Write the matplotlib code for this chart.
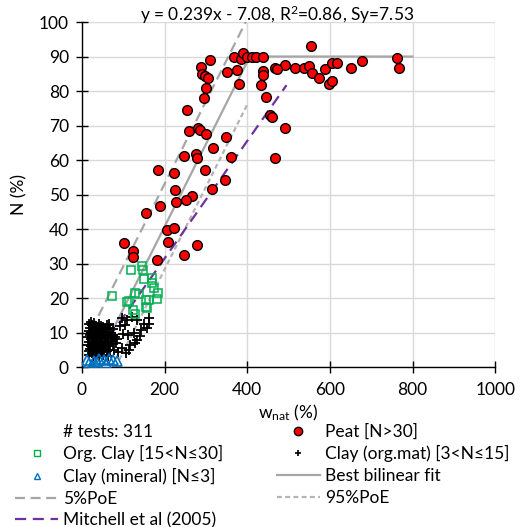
import matplotlib
matplotlib.use("Agg")
import matplotlib.pyplot as plt
from matplotlib.lines import Line2D
import numpy as np

plt.rcParams["font.family"] = ["Lato", "DejaVu Sans"]
plt.rcParams["mathtext.fontset"] = "custom"
plt.rcParams["mathtext.rm"] = "Lato"
plt.rcParams["mathtext.it"] = "Lato:italic"

# --- data ------------------------------------------------------------------
peat_w = [185, 223, 224, 248, 254, 258, 281, 286, 276, 278, 289, 291, 298, 301,
          295, 299, 298, 310, 316, 314, 345, 348, 352, 361, 367, 376, 381, 386,
          390, 399, 412, 422, 437, 438, 439, 433, 446, 454, 466, 468, 491, 492,
          515, 538, 549, 554, 556, 573, 587, 599, 605, 605, 617, 652, 678, 762,
          767, 266, 251, 228, 154, 190, 205, 222, 207, 101, 123, 124, 181, 247,
          279, 306, 471, 459]
peat_n = [57.0, 56.2, 51.2, 61.2, 74.6, 68.3, 69.4, 68.6, 61.8, 60.6, 87.1, 85.0,
          84.3, 80.8, 78.0, 67.4, 57.0, 88.9, 63.4, 51.7, 54.3, 66.6, 85.4, 60.9,
          89.8, 86.0, 82.0, 89.3, 91.0, 89.8, 90.0, 90.0, 89.8, 85.9, 84.7, 81.7,
          78.4, 73.0, 86.7, 60.5, 69.2, 87.4, 86.7, 86.7, 87.2, 93.1, 85.3, 83.9,
          86.5, 82.0, 82.8, 88.1, 88.1, 86.7, 88.6, 89.7, 86.8, 49.7, 48.3, 47.9,
          44.6, 46.8, 39.8, 40.3, 36.3, 36.0, 33.7, 31.8, 30.9, 32.5, 35.4, 83.9,
          86.5, 72.6]

orgclay_w = [72, 118, 145, 147, 149, 169, 169, 174, 184, 181, 155, 154, 129, 108,
             129, 124, 139, 158, 163, 113]
orgclay_n = [20.6, 28.1, 29.4, 28.0, 25.4, 25.7, 24.3, 23.0, 21.4, 19.7, 19.4,
             17.5, 21.4, 18.9, 15.5, 16.5, 21.2, 17.2, 19.4, 19.1]

clayorg_w = [18, 22, 25, 30, 34, 40, 46, 52, 60, 68,
             16, 20, 24, 28, 32, 36, 41, 45, 50, 55, 62, 70, 76,
             15, 19, 23, 27, 31, 35, 38, 43, 48, 53, 58, 64, 72, 80, 84,
             14, 18, 22, 26, 29, 33, 37, 41, 46, 50, 56, 61, 66, 74, 82,
             16, 20, 24, 28, 32, 36, 40, 44, 49, 54, 60, 67, 78, 88,
             18, 26, 34, 42, 52, 62,
             104, 108, 120, 134, 161, 158, 144, 134, 116, 112, 97, 100, 126, 92,
             96, 150, 162, 140, 128, 106, 114,
             21, 26, 31, 38, 44, 48, 57, 63, 69, 75, 30, 39, 27, 47, 55, 65]
clayorg_n = [12.5, 13.0, 12.2, 12.8, 11.9, 12.4, 12.0, 11.6, 12.1, 11.3,
             10.5, 11.2, 10.1, 10.8, 10.3, 11.0, 10.6, 9.9, 10.7, 10.2, 10.9, 10.0, 11.0,
             8.6, 9.2, 8.2, 9.0, 8.4, 9.3, 8.0, 8.8, 8.3, 9.1, 8.5, 8.9, 8.2, 8.8, 8.1,
             6.5, 7.2, 6.1, 7.0, 6.4, 7.4, 6.2, 6.9, 7.3, 6.3, 6.8, 7.2, 6.0, 6.6, 7.0,
             4.6, 5.3, 4.2, 5.0, 4.5, 5.5, 4.1, 5.0, 4.4, 5.2, 4.6, 5.0, 4.8, 4.4,
             3.4, 3.2, 3.6, 3.3, 3.5, 3.1,
             12.2, 13.6, 14.6, 13.6, 14.1, 11.2, 10.7, 7.8, 6.4, 9.3, 5.6, 9.6, 10.0, 11.9,
             14.2, 12.6, 12.5, 9.0, 7.0, 4.0, 5.0,
             9.8, 11.5, 9.6, 10.5, 7.5, 11.3, 9.6, 6.0, 7.5, 9.4, 5.8, 7.7, 4.0, 5.8, 11.0, 12.6]

mineral_w = [13, 18, 25, 30, 36, 42, 54, 58, 66, 76, 84]
mineral_n = [2.1, 1.2, 0.6, 1.6, 1.5, 2.2, 2.1, 1.3, 2.4, 1.9, 1.8]

# bilinear fit y = 0.239x - 7.08, capped at 90
fit_w = [29.6, 406.2, 800]
fit_n = [0.0, 90.0, 90.0]
poe5_w = [23, 400]
poe5_n = [10.8, 100.9]
poe95_w = [81.5, 400]
poe95_n = [0.0, 76.1]
mitchell_w = [15, 495]
mitchell_n = [0.0, 81.7]

GRAY = "#a6a6a6"
PURPLE = "#7030a0"
FS = 12.5

fig = plt.figure(figsize=(5.29, 5.27), dpi=100)
ax = fig.add_axes([0.155, 0.3036, 0.781, 0.6546])

ax.plot(fit_w, fit_n, color=GRAY, lw=1.6, zorder=2)
ax.plot(poe5_w, poe5_n, color=GRAY, lw=1.6, ls=(0, (4.5, 2.5)), zorder=2)
ax.plot(poe95_w, poe95_n, color="#b4b4b4", lw=1.6, ls=(0, (2.2, 1.5)), zorder=2)
ax.plot(mitchell_w, mitchell_n, color=PURPLE, lw=1.6, ls=(0, (5, 3)), zorder=2)

ax.plot(clayorg_w, clayorg_n, ls="none", marker="+", ms=7, mew=1.3,
        color="black", zorder=3)
ax.plot(orgclay_w, orgclay_n, ls="none", marker="s", ms=6, mew=1.1,
        mfc="none", mec="#00b050", zorder=4)
ax.plot(mineral_w, mineral_n, ls="none", marker="^", ms=6.5, mew=1.2,
        mfc="none", mec="#0070c0", zorder=4)
ax.plot(peat_w, peat_n, ls="none", marker="o", ms=7, mew=1.0,
        mfc="#ff0000", mec="black", zorder=5)

ax.set_xlim(0, 1000)
ax.set_ylim(0, 100)
ax.set_xticks(np.arange(0, 1001, 200))
ax.set_yticks(np.arange(0, 101, 10))
ax.grid(True, color="#d9d9d9", lw=1.0)
ax.set_axisbelow(True)
for s in ["top", "right"]:
    ax.spines[s].set_visible(False)
for s in ["left", "bottom"]:
    ax.spines[s].set_linewidth(1.0)
ax.tick_params(direction="inout", length=8, width=1.0, labelsize=FS)
ax.tick_params(axis="x", pad=7)
ax.tick_params(axis="y", pad=5.5)
ax.set_xlabel("w$_{\\mathregular{nat}}$ (%)", fontsize=FS, labelpad=3)
ax.set_ylabel("N (%)", fontsize=FS, labelpad=8)

fig.text(0.523, 0.972, "y = 0.239x - 7.08, R$^{\\mathregular{2}}$=0.86, Sy=7.53",
         ha="center", va="center", fontsize=FS)

h_tests = Line2D([], [], ls="none")
h_peat = Line2D([], [], ls="none", marker="o", ms=6, mfc="#ff0000", mec="black")
h_org = Line2D([], [], ls="none", marker="s", ms=5, mfc="none", mec="#00b050")
h_clay = Line2D([], [], ls="none", marker="+", ms=5, mew=1.2, color="black")
h_min = Line2D([], [], ls="none", marker="^", ms=5, mfc="none", mec="#0070c0")
h_fit = Line2D([], [], color=GRAY, lw=1.6)
h_p5 = Line2D([], [], color=GRAY, lw=1.6, ls=(0, (4.5, 2.5)))
h_p95 = Line2D([], [], color="#b4b4b4", lw=1.6, ls=(0, (2.2, 1.5)))
h_mit = Line2D([], [], color=PURPLE, lw=1.6, ls=(0, (5, 3)))

handles = [h_tests, h_org, h_min, h_p5, h_mit, h_peat, h_clay, h_fit, h_p95]
labels = ["# tests: 311", "Org. Clay [15<N≤30]", "Clay (mineral) [N≤3]",
          "5%PoE", "Mitchell et al (2005)", "Peat [N>30]",
          "Clay (org.mat) [3<N≤15]", "Best bilinear fit", "95%PoE"]
fig.legend(handles, labels, ncol=2, loc="upper left",
           bbox_to_anchor=(0.028, 0.196), frameon=False, fontsize=FS,
           borderpad=0, borderaxespad=0, handlelength=2.5, handletextpad=0.3,
           columnspacing=3.05, labelspacing=0.32)

fig.savefig("out.png", dpi=100)
